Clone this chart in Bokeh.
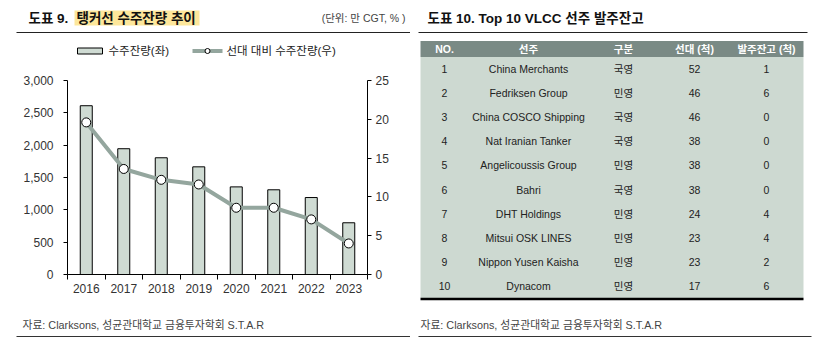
from bokeh.plotting import figure
from bokeh.models import Range1d, LinearAxis, FixedTicker, NumeralTickFormatter, CustomJSTickFormatter
from bokeh.layouts import row, column
from bokeh.embed import file_html
from bokeh.resources import INLINE
from bokeh.core.properties import value

# ---------------- data ----------------
years = ["2016", "2017", "2018", "2019", "2020", "2021", "2022", "2023"]
backlog = [2610, 1945, 1805, 1665, 1355, 1310, 1190, 800]          # 만 CGT (left)
ratio = [19.6, 13.6, 12.2, 11.6, 8.6, 8.6, 7.1, 4.0]                # % (right)
left_ticks = [0, 500, 1000, 1500, 2000, 2500, 3000]
right_ticks = [0, 5, 10, 15, 20, 25]

headers = ["NO.", "선주", "구분", "선대 (척)", "발주잔고 (척)"]
table_no = ["1", "2", "3", "4", "5", "6", "7", "8", "9", "10"]
owners = ["China Merchants", "Fedriksen Group", "China COSCO Shipping", "Nat Iranian Tanker",
          "Angelicoussis Group", "Bahri", "DHT Holdings", "Mitsui OSK LINES",
          "Nippon Yusen Kaisha", "Dynacom"]
owner_type = ["국영", "민영", "국영", "국영", "민영", "국영", "민영", "민영", "민영", "민영"]
fleet = [52, 46, 46, 38, 38, 38, 24, 23, 23, 17]
orderbook = [1, 6, 0, 0, 0, 0, 4, 4, 2, 6]

# ---------------- styles ----------------
FONT = "Liberation Sans, Noto Sans CJK KR"
BAR_FILL = "#cfdbd3"
LINE_COL = "#94a69e"
HEAD_FILL = "#7a8a85"
BODY_FILL = "#cdd9d1"
TXT = "#222222"


def deco_fig(w, h, x0, y0):
    f = figure(width=w, height=h, x_range=Range1d(x0, x0 + w), y_range=Range1d(y0 + h, y0),
               output_backend="svg", toolbar_location=None,
               x_axis_location=None, y_axis_location=None,
               min_border=0, min_border_left=0, min_border_right=0,
               min_border_top=0, min_border_bottom=0, frame_align=False)
    f.outline_line_color = None
    f.grid.grid_line_color = None
    return f


def txt(f, x, y, s, size="11px", color=TXT, align="left", style="normal", font=FONT):
    f.text(x=[x], y=[y], text=[s], text_align=align, text_baseline="middle",
           text_font=value(font), text_font_size=value(size), text_color=color,
           text_font_style=style)


# ---------------- left top (title + legend) ----------------
top = deco_fig(410, 62, 0, 0)
top.quad(left=[74], right=[199], top=[10], bottom=[25], fill_color="#fde79b", line_color=None)
txt(top, 28, 17.5, "도표 9.", size="13.5px", color="#111111", style="bold")
txt(top, 76, 17.5, "탱커선 수주잔량 추이", size="13.5px", color="#111111", style="bold")
txt(top, 405, 17.5, "(단위: 만 CGT, % )", size="10.5px", color="#444444", align="right")
top.segment(x0=[16], x1=[410], y0=[32], y1=[32], line_color="#222222", line_width=1)
# legend
top.quad(left=[77], right=[102], top=[47.5], bottom=[53.5], fill_color=BAR_FILL,
         line_color="black", line_width=1)
txt(top, 108, 50.5, "수주잔량(좌)", size="11.5px")
top.segment(x0=[192], x1=[222], y0=[50.5], y1=[50.5], line_color=LINE_COL, line_width=4)
top.scatter(x=[207], y=[50.5], size=5, fill_color="white", line_color="black", line_width=1)
txt(top, 226, 50.5, "선대 대비 수주잔량(우)", size="11.5px")

# ---------------- chart ----------------
n = len(years)
xs = [i + 0.5 for i in range(n)]
chart = figure(width=410, height=248, x_range=Range1d(0, n), y_range=Range1d(0, 3000),
               output_backend="svg", toolbar_location=None,
               x_axis_location=None, y_axis_location=None, frame_align=False,
               min_border_left=67, min_border_right=43, min_border_top=18, min_border_bottom=36)
chart.outline_line_color = None
chart.grid.grid_line_color = None
chart.extra_y_ranges = {"right": Range1d(0, 25)}

xaxis = LinearAxis(ticker=FixedTicker(ticks=xs, minor_ticks=list(range(n + 1))),
                   formatter=CustomJSTickFormatter(args=dict(labels=years),
                                                   code="return labels[Math.floor(tick)];"))
xaxis.major_tick_line_color = None
xaxis.major_tick_out = 5
xaxis.major_tick_in = 0
xaxis.minor_tick_out = 5
xaxis.minor_tick_in = 0
xaxis.minor_tick_line_color = "black"
xaxis.major_label_standoff = 4
chart.add_layout(xaxis, "below")

laxis = LinearAxis(ticker=FixedTicker(ticks=left_ticks), formatter=NumeralTickFormatter(format="0,0"))
laxis.major_label_standoff = 10
chart.add_layout(laxis, "left")

raxis = LinearAxis(y_range_name="right", ticker=FixedTicker(ticks=right_ticks))
raxis.major_label_standoff = 4
chart.add_layout(raxis, "right")

for ax in (xaxis, laxis, raxis):
    ax.axis_line_color = "black"
    ax.axis_line_width = 1
    ax.major_label_text_font = FONT
    ax.major_label_text_font_size = "12px"
    ax.major_label_text_color = "#333333"
for ax in (laxis, raxis):
    ax.major_tick_out = 4
    ax.major_tick_in = 0
    ax.major_tick_line_color = "black"
    ax.minor_tick_line_color = None

chart.vbar(x=xs, top=backlog, width=0.32, fill_color=BAR_FILL, line_color="black", line_width=1)
chart.line(x=xs, y=ratio, y_range_name="right", line_color=LINE_COL, line_width=4)
chart.scatter(x=xs, y=ratio, y_range_name="right", size=9, fill_color="white",
              line_color="black", line_width=1)

# ---------------- left bottom (source) ----------------
bot = deco_fig(410, 41, 0, 310)
txt(bot, 22, 324, "자료: Clarksons, 성균관대학교 금융투자학회 S.T.A.R", size="10.8px", color="#444444")
bot.segment(x0=[16], x1=[410], y0=[336], y1=[336], line_color="#333333", line_width=1)

# ---------------- right panel (table) ----------------
tab = deco_fig(409, 351, 410, 0)
txt(tab, 427, 17.5, "도표 10. Top 10 VLCC 선주 발주잔고", size="13.5px", color="#111111", style="bold")
tab.segment(x0=[418], x1=[807], y0=[32], y1=[32], line_color="#222222", line_width=1)

col_x = [444, 528, 623, 694, 766]
head_top, head_bot = 40.5, 56.5
row_h = 24.1
nrows = len(owners)
body_bot = head_bot + row_h * nrows
tab.quad(left=[420], right=[803], top=[head_top], bottom=[head_bot], fill_color=HEAD_FILL, line_color=None)
tab.quad(left=[420], right=[803], top=[head_bot], bottom=[body_bot], fill_color=BODY_FILL, line_color=None)
tab.segment(x0=[420], x1=[803], y0=[body_bot + 1], y1=[body_bot + 1], line_color="black", line_width=2.5)

tab.text(x=col_x, y=[(head_top + head_bot) / 2] * len(headers), text=headers,
         text_align="center", text_baseline="middle", text_font=value(FONT),
         text_font_size=value("10.5px"), text_color="white", text_font_style="bold")

row_y = [head_bot + row_h * (i + 0.5) for i in range(nrows)]
columns = [table_no, owners, owner_type, [str(v) for v in fleet], [str(v) for v in orderbook]]
for cx, colvals in zip(col_x, columns):
    tab.text(x=[cx] * nrows, y=row_y, text=colvals, text_align="center", text_baseline="middle",
             text_font=value(FONT), text_font_size=value("10.5px"), text_color=TXT)

txt(tab, 420, 324, "자료: Clarksons, 성균관대학교 금융투자학회 S.T.A.R", size="10.8px", color="#444444")
tab.segment(x0=[418], x1=[811], y0=[336], y1=[336], line_color="#333333", line_width=1)

layout = row(column(top, chart, bot, spacing=0), tab, spacing=0)
open("out.html", "w").write(file_html(layout, INLINE))
